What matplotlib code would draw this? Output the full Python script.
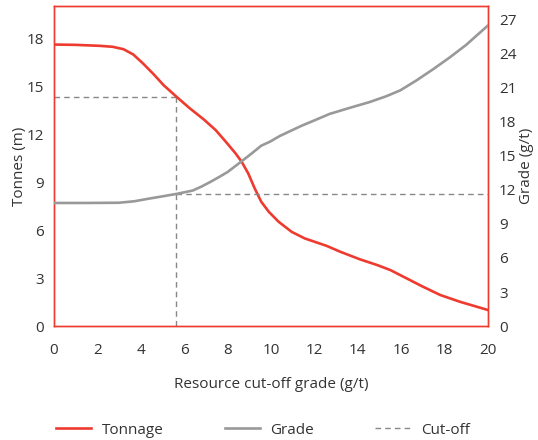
"""Tonnage / grade curve vs resource cut-off grade."""

import matplotlib
matplotlib.use('Agg')
import matplotlib.pyplot as plt
from matplotlib.lines import Line2D

plt.rcParams['font.family'] = ['Open Sans', 'DejaVu Sans']

RED = '#ee3a2f'
GREY = '#999999'
TEXT = '#333333'

# tonnage curve (left axis, Mt)
tonnage_x = [0, 1.0, 2.1, 2.7, 3.2, 3.65, 4.1, 4.6, 5.05, 5.65, 6.25, 6.9,
             7.45, 7.9, 8.35, 8.65, 8.95, 9.25, 9.55, 9.9, 10.35, 10.95,
             11.55, 12.05, 12.55, 13.2, 14.1, 14.9, 15.5, 16.25, 17.0, 17.8,
             18.7, 20]
tonnage = [17.6, 17.58, 17.52, 17.46, 17.31, 16.98, 16.42, 15.73, 15.06,
           14.33, 13.62, 12.92, 12.25, 11.55, 10.82, 10.27, 9.54, 8.6, 7.77,
           7.14, 6.52, 5.89, 5.48, 5.25, 5.02, 4.64, 4.17, 3.81, 3.5, 2.98,
           2.46, 1.94, 1.52, 1.0]

# grade curve (right axis, g/t)
grade_x = [0, 1.5, 3.0, 3.7, 4.4, 5.05, 5.65, 6.4, 6.8, 7.2, 7.6, 8.0, 8.6,
           9.1, 9.55, 9.95, 10.4, 10.9, 11.4, 11.9, 12.7, 13.6, 14.55, 15.3,
           15.95, 16.7, 17.5, 18.25, 19.0, 20]
grade = [10.85, 10.85, 10.87, 11.0, 11.24, 11.45, 11.65, 11.95, 12.3, 12.7,
         13.13, 13.58, 14.46, 15.2, 15.9, 16.25, 16.75, 17.2, 17.65, 18.05,
         18.7, 19.22, 19.75, 20.25, 20.77, 21.65, 22.68, 23.7, 24.8, 26.5]

cutoff_grade = 5.6
cutoff_tonnes = 14.3
cutoff_head_grade = 11.6

x_ticks = list(range(0, 21, 2))
left_ticks = list(range(0, 19, 3))
right_ticks = list(range(0, 28, 3))

fig = plt.figure(figsize=(5.38, 4.40), dpi=100)
ax = fig.add_axes([0.1004, 0.259, 0.8067, 0.727])
ax2 = ax.twinx()

ax.plot(tonnage_x, tonnage, color=RED, linewidth=1.9, solid_joinstyle='round', zorder=3)
ax2.plot(grade_x, grade, color=GREY, linewidth=1.9, solid_joinstyle='round', zorder=3)

dash = dict(color='#888888', linewidth=1.0, dashes=(4, 3))
ax.plot([cutoff_grade, cutoff_grade], [0, cutoff_tonnes], **dash)
ax.plot([0, cutoff_grade], [cutoff_tonnes, cutoff_tonnes], **dash)
ax2.plot([cutoff_grade, 20], [cutoff_head_grade, cutoff_head_grade], **dash)

ax.set_xlim(0, 20)
ax.set_ylim(0, 20)
ax2.set_ylim(0, 28.2)
ax.set_xticks(x_ticks)
ax.set_yticks(left_ticks)
ax2.set_yticks(right_ticks)

for a in (ax, ax2):
    for s in a.spines.values():
        s.set_color(RED)
        s.set_linewidth(1.0)
ax.tick_params(axis='both', length=0, labelsize=11, colors=TEXT)
ax.tick_params(axis='x', pad=12)
ax.tick_params(axis='y', pad=7)
ax2.tick_params(axis='y', length=0, labelsize=11, colors=TEXT, pad=8)

ax.set_ylabel('Tonnes (m)', fontsize=11, color=TEXT, labelpad=0)
ax2.set_ylabel('Grade (g/t)', fontsize=11, color=TEXT, labelpad=2)
ax.set_xlabel('Resource cut-off grade (g/t)', fontsize=11, color=TEXT, labelpad=14)

handles = [
    Line2D([], [], color=RED, linewidth=1.9),
    Line2D([], [], color=GREY, linewidth=1.9),
    Line2D([], [], **dash),
]
fig.legend(handles, ['Tonnage', 'Grade', 'Cut-off'], loc='center left',
           bbox_to_anchor=(0.078, 0.022), ncol=3, frameon=False,
           fontsize=11, handlelength=2.3, handletextpad=0.7,
           columnspacing=4.0, labelcolor=TEXT)

fig.savefig('out.png', dpi=100)
